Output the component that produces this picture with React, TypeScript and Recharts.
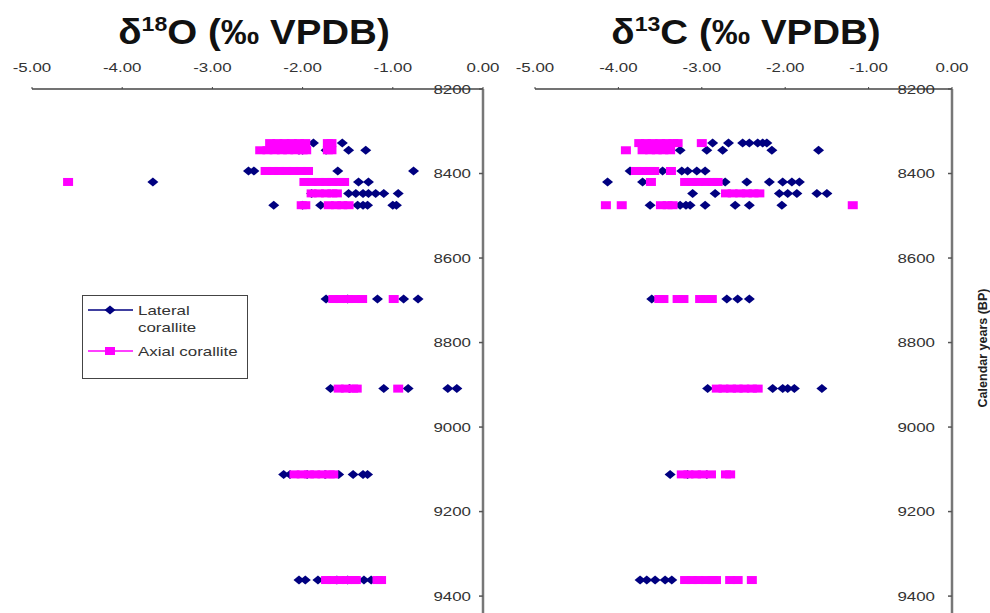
import React from 'react';
import { ScatterChart, Scatter, XAxis, YAxis } from 'recharts';

// sample ages (years BP) for each sampled band
const AGES = [8328, 8345, 8394, 8420, 8447, 8475, 8697, 8909, 9112, 9362];

const X_TICKS = [-5, -4, -3, -2, -1, 0];
const Y_TICKS = [8200, 8400, 8600, 8800, 9000, 9200, 9400];

// values per age row, same order as AGES
const o18Lateral: number[][] = [
  [-1.88, -1.56],
  [-2.04, -2.0, -1.74, -1.49, -1.3],
  [-2.6, -2.54, -1.61, -0.77],
  [-3.66, -1.38, -1.27],
  [-1.9, -1.49, -1.41, -1.33, -1.27, -1.19, -1.1, -0.94],
  [-2.32, -2.0, -1.8, -1.39, -1.33, -1.28, -1.0, -0.96],
  [-1.74, -1.5, -1.17, -0.88, -0.72],
  [-1.69, -1.48, -1.1, -0.83, -0.39, -0.29],
  [-2.21, -2.14, -1.95, -1.75, -1.6, -1.44, -1.33, -1.28],
  [-2.04, -1.97, -1.83, -1.62, -1.5, -1.32, -1.24],
];

const o18Axial: number[][] = [
  [-2.36, -2.28, -2.2, -2.12, -2.04, -1.97, -1.72, -1.68],
  [-2.47, -2.39, -2.31, -2.23, -2.16, -2.08, -2.0, -1.96, -1.72, -1.68],
  [-2.41, -2.33, -2.26, -2.18, -2.1, -2.02, -1.94],
  [-4.6, -1.98, -1.9, -1.82, -1.74, -1.67, -1.59, -1.54],
  [-1.9, -1.82, -1.74, -1.67, -1.62],
  [-2.01, -1.97, -1.71, -1.63, -1.56, -1.49],
  [-1.66, -1.58, -1.5, -1.42, -1.34, -0.99],
  [-1.6, -1.52, -1.44, -1.4, -0.94],
  [-2.09, -2.01, -1.93, -1.86, -1.78, -1.7, -1.66],
  [-1.74, -1.67, -1.59, -1.51, -1.43, -1.41, -1.17, -1.13],
];

const c13Lateral: number[][] = [
  [-2.87, -2.68, -2.51, -2.43, -2.33, -2.27, -2.22],
  [-3.26, -2.94, -2.75, -2.16, -1.6],
  [-3.86, -3.47, -3.24, -3.17, -3.06, -2.96],
  [-4.13, -3.71, -2.72, -2.46, -2.19, -2.03, -1.92, -1.83],
  [-3.11, -2.84, -2.07, -1.97, -1.86, -1.62, -1.5],
  [-3.62, -3.26, -3.19, -3.14, -2.96, -2.6, -2.43, -2.04],
  [-3.6, -2.7, -2.57, -2.43],
  [-2.93, -2.15, -2.03, -1.97, -1.89, -1.56],
  [-3.38, -3.17, -2.94],
  [-3.74, -3.66, -3.56, -3.44, -3.36],
];

const c13Axial: number[][] = [
  [-3.75, -3.67, -3.59, -3.5, -3.42, -3.34, -3.29, -3.0],
  [-3.91, -3.71, -3.62, -3.54, -3.46, -3.38],
  [-3.79, -3.71, -3.62, -3.57, -3.37],
  [-3.61, -3.2, -3.12, -3.04, -2.95, -2.87, -2.81],
  [-2.71, -2.63, -2.54, -2.46, -2.38, -2.31],
  [-4.15, -3.96, -3.49, -3.41, -3.35, -1.19],
  [-3.51, -3.46, -3.29, -3.22, -3.02, -2.95, -2.88],
  [-2.82, -2.74, -2.65, -2.57, -2.49, -2.4, -2.33],
  [-3.24, -3.16, -3.07, -2.99, -2.89, -2.71, -2.66],
  [-3.2, -3.12, -3.04, -2.95, -2.87, -2.83, -2.66, -2.57, -2.4],
];

const NAVY = '#000080';
const MAGENTA = '#FF00FF';
const FONT = '"Liberation Sans", Arial, sans-serif';

const toPoints = (rows: number[][]) =>
  rows.flatMap((vals, i) => vals.map((v) => ({ x: v, y: AGES[i] })));

const Diamond = (props: any) => {
  const { cx, cy } = props;
  if (cx == null || cy == null) return null;
  return (
    <polygon
      points={`${cx - 5.5},${cy} ${cx},${cy - 4.5} ${cx + 5.5},${cy} ${cx},${cy + 4.5}`}
      fill={NAVY}
    />
  );
};

const Square = (props: any) => {
  const { cx, cy } = props;
  if (cx == null || cy == null) return null;
  return <rect x={cx - 5} y={cy - 4} width={10} height={8} fill={MAGENTA} />;
};

const XTick = (props: any) => {
  const { x, y, payload } = props;
  return (
    <text
      transform={`translate(${x},${y - 15}) scale(1.3,1)`}
      textAnchor="middle"
      fill="#333"
      fontSize={13}
      fontFamily={FONT}
    >
      {Number(payload.value).toFixed(2)}
    </text>
  );
};

const YTick = (props: any) => {
  const { x, y, payload } = props;
  return (
    <text
      transform={`translate(${x},${y + 4.5}) scale(1.3,1)`}
      textAnchor="end"
      fill="#333"
      fontSize={13}
      fontFamily={FONT}
    >
      {payload.value}
    </text>
  );
};

function Panel({ lateral, axial, left, width, margin, gap }: any) {
  return (
    <div style={{ position: 'absolute', left, top: 0 }}>
      <ScatterChart width={width} height={613} margin={margin}>
        <XAxis
          type="number"
          dataKey="x"
          orientation="top"
          domain={[-5, 0]}
          ticks={X_TICKS}
          height={30}
          tickSize={2}
          tickMargin={0}
          tick={<XTick />}
          axisLine={{ stroke: '#444', strokeWidth: 1.5 }}
          tickLine={{ stroke: '#444' }}
          allowDataOverflow
        />
        <YAxis
          type="number"
          dataKey="y"
          orientation="right"
          mirror
          reversed
          domain={[8200, 9440]}
          ticks={Y_TICKS}
          tickSize={4}
          tickMargin={gap}
          tick={<YTick />}
          axisLine={{ stroke: '#777', strokeWidth: 2.5 }}
          tickLine={{ stroke: '#555', strokeWidth: 1.5 }}
          allowDataOverflow
        />
        <Scatter data={toPoints(lateral)} shape={<Diamond />} isAnimationActive={false} />
        <Scatter data={toPoints(axial)} shape={<Square />} isAnimationActive={false} />
      </ScatterChart>
    </div>
  );
}

const Title = ({ center, mass, el }: any) => (
  <div
    style={{
      position: 'absolute',
      left: center - 200,
      top: 12,
      width: 400,
      textAlign: 'center',
      fontFamily: FONT,
      fontWeight: 'bold',
      fontSize: 35,
      color: '#111',
      transform: 'scaleX(1.1)',
      whiteSpace: 'nowrap',
      lineHeight: '40px',
    }}
  >
    δ<sup style={{ fontSize: 21, verticalAlign: 'top', lineHeight: '24px' }}>{mass}</sup>
    {el} (‰ VPDB)
  </div>
);

const LegendRow = ({ color, marker, label }: any) => (
  <div style={{ display: 'flex', alignItems: 'flex-start' }}>
    <svg width={50} height={16} style={{ flex: 'none' }}>
      <line x1={5} y1={8} x2={50} y2={8} stroke={color} strokeWidth={1.5} />
      {marker === 'diamond' ? (
        <polygon points="21.5,8 27,3.5 32.5,8 27,12.5" fill={color} />
      ) : (
        <rect x={22} y={4} width={10} height={8} fill={color} />
      )}
    </svg>
    <div
      style={{
        marginLeft: 5,
        fontSize: 13,
        lineHeight: '17px',
        color: '#333',
        width: 82,
        transform: 'scaleX(1.3)',
        transformOrigin: 'left top',
      }}
    >
      {label}
    </div>
  </div>
);

export default function App() {
  return (
    <div
      style={{
        position: 'absolute',
        left: 0,
        top: 0,
        width: 990,
        height: 613,
        overflow: 'hidden',
        background: '#fff',
        fontFamily: FONT,
      }}
    >
      <Panel
        lateral={o18Lateral}
        axial={o18Axial}
        left={0}
        width={500}
        gap={8}
        margin={{ top: 59, right: 17, bottom: 0, left: 32 }}
      />
      <Panel
        lateral={c13Lateral}
        axial={c13Axial}
        left={500}
        width={490}
        gap={13}
        margin={{ top: 59, right: 38, bottom: 0, left: 35 }}
      />
      <Title center={254} mass="18" el="O" />
      <Title center={746} mass="13" el="C" />

      {/* legend box */}
      <div
        style={{
          position: 'absolute',
          left: 82,
          top: 295,
          width: 166,
          height: 84,
          border: '1.5px solid #444',
          boxSizing: 'border-box',
          paddingTop: 6,
          background: '#fff',
        }}
      >
        <LegendRow color={NAVY} marker="diamond" label="Lateral corallite" />
        <div style={{ height: 7 }} />
        <LegendRow color={MAGENTA} marker="square" label="Axial corallite" />
      </div>

      <div
        style={{
          position: 'absolute',
          left: 983 - 75,
          top: 348 - 9,
          width: 150,
          height: 18,
          lineHeight: '18px',
          textAlign: 'center',
          fontSize: 12.5,
          fontWeight: 'bold',
          color: '#222',
          transform: 'rotate(-90deg)',
          whiteSpace: 'nowrap',
        }}
      >
        Calendar years (BP)
      </div>
    </div>
  );
}
